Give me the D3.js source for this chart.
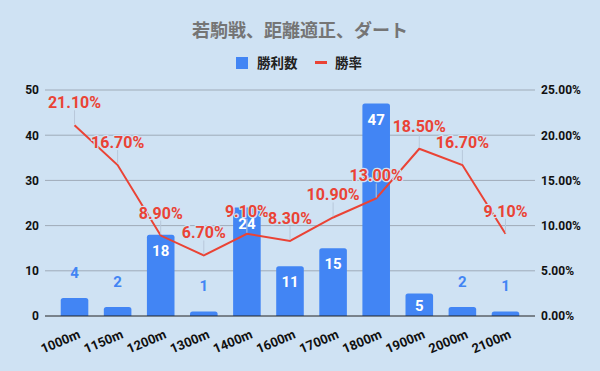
<!DOCTYPE html>
<html><head><meta charset="utf-8">
<script src="https://cdn.jsdelivr.net/npm/d3@7"></script>
<style>
html,body{margin:0;padding:0;background:#cfe2f3;}
svg{display:block;font-family:Roboto,"Noto Sans CJK JP",sans-serif;}
</style></head>
<body>
<svg id="c" width="600" height="371"></svg>
<script>
const categories = ["1000m","1150m","1200m","1300m","1400m","1600m","1700m","1800m","1900m","2000m","2100m"];
const wins = [4,2,18,1,24,11,15,47,5,2,1];
const rates = [21.1,16.7,8.9,6.7,9.1,8.3,10.9,13.0,18.5,16.7,9.1];
const leftTicks = [0,10,20,30,40,50];
const rightTicks = [0,5,10,15,20,25];
const title = "若駒戦、距離適正、ダート";
const seriesNames = ["勝利数","勝率"];

const BLUE = "#4285f4", RED = "#ea4335", BG = "#cfe2f3";
const svg = d3.select("#c");
svg.append("rect").attr("width",600).attr("height",371).attr("fill",BG);

const x = d3.scaleBand().domain(categories).range([45,535]).paddingInner(0.36).paddingOuter(0.365);
const yL = d3.scaleLinear().domain([0,50]).range([316,90]);
const yR = d3.scaleLinear().domain([0,25]).range([316,90]);

// grid
svg.append("g").selectAll("line").data(leftTicks.filter(d=>d>0)).join("line")
  .attr("x1",45).attr("x2",535).attr("y1",d=>yL(d)).attr("y2",d=>yL(d))
  .attr("stroke","#9fabb8").attr("stroke-width",1);

// left axis
const la = svg.append("g").attr("transform","translate(39,0)")
  .call(d3.axisLeft(yL).tickValues(leftTicks).tickSize(0).tickPadding(0));
la.select(".domain").remove();
la.selectAll("text").attr("font-size",12).attr("font-weight","bold").attr("fill","#111").attr("font-family","Roboto,sans-serif");

// right axis
const ra = svg.append("g").attr("transform","translate(541,0)")
  .call(d3.axisRight(yR).tickValues(rightTicks).tickSize(0).tickPadding(0).tickFormat(d=>d.toFixed(2)+"%"));
ra.select(".domain").remove();
ra.selectAll("text").attr("font-size",12).attr("font-weight","bold").attr("fill","#111").attr("font-family","Roboto,sans-serif");

// bars with rounded top corners
function barPath(x0,w,yt,yb,r){
  r=Math.min(r,(yb-yt),w/2);
  return `M${x0},${yb}V${yt+r}Q${x0},${yt} ${x0+r},${yt}H${x0+w-r}Q${x0+w},${yt} ${x0+w},${yt+r}V${yb}Z`;
}
svg.append("g").selectAll("path").data(wins).join("path")
  .attr("d",(d,i)=>barPath(x(categories[i]),x.bandwidth(),yL(d),yL(0),2.5))
  .attr("fill",BLUE);

// baseline
svg.append("line").attr("x1",45).attr("x2",535).attr("y1",yL(0)).attr("y2",yL(0))
  .attr("stroke","#222").attr("stroke-width",1);

// bar labels
svg.append("g").selectAll("text").data(wins).join("text")
  .attr("x",(d,i)=>x(categories[i])+x.bandwidth()/2)
  .attr("y",d=> d>=5 ? Math.min(yL(d)+21, yL(0)-5) : yL(d)-20)
  .attr("text-anchor","middle").attr("font-size",15).attr("font-weight","bold")
  .attr("fill",d=> d>=5 ? "#fff" : BLUE)
  .text(d=>d);

// x labels
svg.append("g").selectAll("text").data(categories).join("text")
  .attr("transform",d=>`translate(${x(d)+x.bandwidth()/2+6.5},337.5) rotate(-23)`)
  .attr("text-anchor","end").attr("font-size",13).attr("font-weight","bold").attr("fill","#111")
  .text(d=>d);

// line
const cx = i => x(categories[i])+x.bandwidth()/2;
svg.append("path").datum(rates)
  .attr("d",d3.line().x((d,i)=>cx(i)).y(d=>yR(d)))
  .attr("fill","none").attr("stroke",RED).attr("stroke-width",2);

// leaders
svg.append("g").selectAll("line").data(rates).join("line")
  .attr("x1",(d,i)=>cx(i)).attr("x2",(d,i)=>cx(i))
  .attr("y1",d=>yR(d)-15).attr("y2",d=>yR(d)-1)
  .attr("stroke","#b8c8da").attr("stroke-width",1);

// line labels
svg.append("g").selectAll("text").data(rates).join("text")
  .attr("x",(d,i)=>cx(i)).attr("y",d=>yR(d)-17)
  .attr("text-anchor","middle").attr("font-size",16).attr("font-weight","bold")
  .attr("fill",RED).attr("stroke",BG).attr("stroke-width",2.5).attr("paint-order","stroke")
  .attr("stroke-linejoin","round")
  .text(d=>d.toFixed(2)+"%");

// title
svg.append("text").attr("x",300).attr("y",37).attr("text-anchor","middle")
  .attr("font-family","'Noto Sans CJK JP',sans-serif")
  .attr("font-size",18).attr("font-weight","bold").attr("fill","#757575").text(title);

// legend
const lg = svg.append("g").attr("font-family","'Noto Sans CJK JP',sans-serif");
lg.append("rect").attr("x",236).attr("y",57).attr("width",12).attr("height",12).attr("fill",BLUE);
lg.append("text").attr("x",257).attr("y",67.5).attr("font-size",13.5).attr("font-weight","bold").attr("fill","#222").text(seriesNames[0]);
lg.append("rect").attr("x",315).attr("y",61).attr("width",12).attr("height",3).attr("fill",RED);
lg.append("text").attr("x",335).attr("y",67.5).attr("font-size",13.5).attr("font-weight","bold").attr("fill","#222").text(seriesNames[1]);
</script>
</body></html>
